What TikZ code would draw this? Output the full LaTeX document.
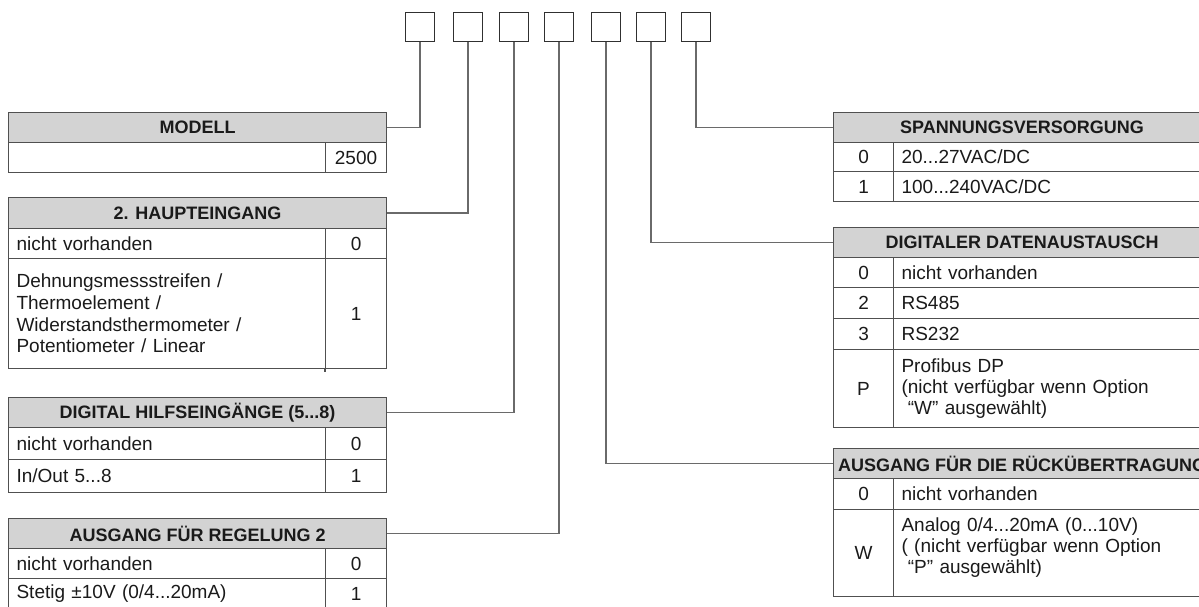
\documentclass[tikz,border=0pt]{standalone}
\usepackage{fontspec}
\setmainfont{Liberation Sans}
\definecolor{tabline}{HTML}{505050}
\definecolor{hdrfill}{HTML}{D3D3D3}
\definecolor{boxline}{HTML}{303030}
\definecolor{leadc}{HTML}{6A6A6A}
\definecolor{textc}{HTML}{1A1A1A}
\tikzset{
  tab/.style={draw=tabline, line width=1.1pt, rectangle, inner sep=0pt,
              anchor=north west, text=textc},
  hdr/.style={tab, fill=hdrfill, minimum height=30pt,
              font=\bfseries\fontsize{18}{21}\selectfont},
  txt/.style={tab, align=left, inner xsep=8pt,
              font=\fontsize{19}{21.7}\selectfont},
  val/.style={tab, align=center, font=\fontsize{19}{21.7}\selectfont},
  selbox/.style={draw=boxline, line width=1.2pt, minimum size=29pt, inner sep=0pt},
  lead/.style={draw=leadc, line width=1.4pt}
}
\begin{document}
\begin{tikzpicture}[x=1pt, y=-1pt]
\useasboundingbox (0,0) rectangle (1199,607);
\clip (0,0) rectangle (1199,607);

% selection boxes of the order code
\node[selbox] (b1) at (420,27) {};
\node[selbox] (b2) at (468,27) {};
\node[selbox] (b3) at (514,27) {};
\node[selbox] (b4) at (559,27) {};
\node[selbox] (b5) at (606,27) {};
\node[selbox] (b6) at (651,27) {};
\node[selbox] (b7) at (696,27) {};

% ---- left column of tables ----
% MODELL
\node[hdr, minimum width=378pt] (mod) at (8,112) {MODELL};
\node[txt, text width=301pt, minimum height=30pt] (m1t) at (8,142) {};
\node[val, minimum width=61pt, minimum height=30pt] (m1v) at (325,142) {2500};

% 2. HAUPTEINGANG
\node[hdr, minimum width=378pt, minimum height=31pt] (hpt) at (8,197) {2. HAUPTEINGANG};
\node[txt, text width=301pt, minimum height=30pt] (h1t) at (8,228) {nicht vorhanden};
\node[val, minimum width=61pt, minimum height=30pt] (h1v) at (325,228) {0};
\node[txt, text width=301pt, minimum height=110pt] (h2t) at (8,258)
  {Dehnungsmessstreifen /\\Thermoelement /\\Widerstandsthermometer /\\Potentiometer / Linear};
\node[val, minimum width=61pt, minimum height=110pt] (h2v) at (325,258) {1};
\draw[tabline, line width=1.1pt] (h2v.south west) -- ++(0,3);

% DIGITAL HILFSEINGAENGE
\node[hdr, minimum width=378pt] (dhe) at (8,397) {DIGITAL HILFSEINGÄNGE (5...8)};
\node[txt, text width=301pt, minimum height=32pt] (d1t) at (8,427) {nicht vorhanden};
\node[val, minimum width=61pt, minimum height=32pt] (d1v) at (325,427) {0};
\node[txt, text width=301pt, minimum height=33pt] (d2t) at (8,459) {In/Out 5...8};
\node[val, minimum width=61pt, minimum height=33pt] (d2v) at (325,459) {1};

% AUSGANG FUER REGELUNG 2
\node[hdr, minimum width=378pt] (reg) at (8,518) {AUSGANG FÜR REGELUNG 2};
\node[txt, text width=301pt, minimum height=30pt] (r1t) at (8,548) {nicht vorhanden};
\node[val, minimum width=61pt, minimum height=30pt] (r1v) at (325,548) {0};
\node[txt, text width=301pt, minimum height=30pt] (r2t) at (8,578) {Stetig ±10V (0/4...20mA)};
\node[val, minimum width=61pt, minimum height=30pt] (r2v) at (325,578) {1};
\draw[tabline, line width=1.1pt] (r2t.south west) -- ++(0,10) (r2v.south west) -- ++(0,10) (r2v.south east) -- ++(0,10);

% ---- right column of tables ----
% SPANNUNGSVERSORGUNG
\node[hdr, minimum width=377pt] (spv) at (833,112) {SPANNUNGSVERSORGUNG};
\node[val, minimum width=60pt, minimum height=29pt] (s1v) at (833,142) {0};
\node[txt, text width=301pt, minimum height=29pt] (s1t) at (893,142) {20...27VAC/DC};
\node[val, minimum width=60pt, minimum height=30pt] (s2v) at (833,171) {1};
\node[txt, text width=301pt, minimum height=30pt] (s2t) at (893,171) {100...240VAC/DC};

% DIGITALER DATENAUSTAUSCH
\node[hdr, minimum width=377pt] (dda) at (833,227) {DIGITALER DATENAUSTAUSCH};
\node[val, minimum width=60pt, minimum height=30pt] (x1v) at (833,257) {0};
\node[txt, text width=301pt, minimum height=30pt] (x1t) at (893,257) {nicht vorhanden};
\node[val, minimum width=60pt, minimum height=31pt] (x2v) at (833,287) {2};
\node[txt, text width=301pt, minimum height=31pt] (x2t) at (893,287) {RS485};
\node[val, minimum width=60pt, minimum height=31pt] (x3v) at (833,318) {3};
\node[txt, text width=301pt, minimum height=31pt] (x3t) at (893,318) {RS232};
\node[val, minimum width=60pt, minimum height=78pt] (x4v) at (833,349) {P};
\node[txt, text width=301pt, minimum height=78pt, font=\fontsize{19}{20.8}\selectfont] (x4t) at (893,349)
  {Profibus DP\\(nicht verfügbar wenn Option\\\ “W” ausgewählt)};

% AUSGANG FUER DIE RUECKUEBERTRAGUNG
\node[hdr, minimum width=377pt] (rue) at (833,448) {AUSGANG FÜR DIE RÜCKÜBERTRAGUNG};
\node[val, minimum width=60pt, minimum height=31pt] (w1v) at (833,478) {0};
\node[txt, text width=301pt, minimum height=31pt] (w1t) at (893,478) {nicht vorhanden};
\node[val, minimum width=60pt, minimum height=87pt] (w2v) at (833,509) {W};
\node[txt, text width=301pt, minimum height=87pt, font=\fontsize{19}{20.8}\selectfont] (w2t) at (893,509)
  {Analog 0/4...20mA (0...10V)\\( (nicht verfügbar wenn Option\\\ “P” ausgewählt)\\[-6pt]\mbox{}};

% ---- leads from the code boxes to their tables ----
\draw[lead] (b1.south) |- (mod.east);
\draw[lead] (b2.south) |- (hpt.east);
\draw[lead] (b3.south) |- (dhe.east);
\draw[lead] (b4.south) |- (reg.east);
\draw[lead] (b5.south) |- (rue.west);
\draw[lead] (b6.south) |- (dda.west);
\draw[lead] (b7.south) |- (spv.west);
\end{tikzpicture}
\end{document}
